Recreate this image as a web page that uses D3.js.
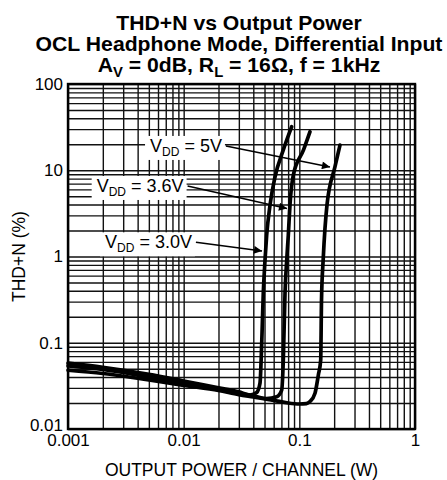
<!DOCTYPE html>
<html><head><meta charset="utf-8">
<script src="https://cdn.jsdelivr.net/npm/d3@7"></script>
<style>body{margin:0;background:#fff}</style>
</head><body>
<svg id="c" width="447" height="480"></svg>
<script>
// ---- data ----
const titleLine1 = "THD+N vs Output Power";
const titleLine2 = "OCL Headphone Mode, Differential Input";
const titleLine3 = [["A",0],["V",1],[" = 0dB, R",0],["L",1],[" = 16\u03A9, f = 1kHz",0]];
const xTickValues = [0.001, 0.01, 0.1, 1];
const xTickLabels = ["0.001", "0.01", "0.1", "1"];
const yTickValues = [0.01, 0.1, 1, 10, 100];
const yTickLabels = ["0.01", "0.1", "1", "10", "100"];
const xTitle = "OUTPUT POWER / CHANNEL (W)";
const yTitle = "THD+N (%)";

const power3V0 = [0.001, 0.002, 0.005, 0.01, 0.02, 0.03, 0.0375, 0.0428, 0.0457, 0.0473, 0.0488, 0.0505, 0.0522, 0.0558, 0.0616, 0.0727, 0.0859];
const thd3V0   = [0.058, 0.052, 0.043, 0.036, 0.030, 0.027, 0.0248, 0.0265, 0.034, 0.099, 0.378, 0.91, 1.77, 3.95, 8.35, 17.2, 32];
const power3V6 = [0.001, 0.002, 0.005, 0.01, 0.02, 0.03, 0.04, 0.052, 0.0637, 0.0704, 0.0727, 0.0752, 0.0778, 0.0803, 0.083, 0.0887, 0.1087, 0.1237];
const thd3V6   = [0.054, 0.049, 0.040, 0.034, 0.029, 0.026, 0.0243, 0.0225, 0.0237, 0.0283, 0.063, 0.378, 0.91, 1.77, 3.95, 8.81, 17.2, 28];
const power5V0 = [0.001, 0.002, 0.005, 0.01, 0.02, 0.03, 0.04, 0.06, 0.08, 0.1, 0.115, 0.1236, 0.1366, 0.146, 0.153, 0.1555, 0.161, 0.1734, 0.2034, 0.2246];
const thd5V0   = [0.048, 0.044, 0.037, 0.032, 0.028, 0.025, 0.0235, 0.0215, 0.020, 0.0195, 0.0197, 0.0208, 0.026, 0.0423, 0.063, 0.313, 0.953, 3.95, 11, 19.6];

const labelSupply = ["5V", "3.6V", "3.0V"];
const labelPower  = [0.00512, 0.00177, 0.00209];   // text start
const labelThd    = [16.3, 5.6, 1.245];            // text baseline
const arrowPower  = [0.184, 0.0782, 0.0476];       // arrow tip
const arrowThd    = [10.9, 3.6, 1.16];

// ---- layout ----
const W = 447, H = 480;
const L = 68, R = 415, T = 84, B = 429;
const font = "'Liberation Sans', Arial, Helvetica, sans-serif";
const svg = d3.select("#c");
svg.append("rect").attr("width", W).attr("height", H).attr("fill", "#fff");

const x = d3.scaleLog().domain([0.001, 1]).range([L, R]);
const y = d3.scaleLog().domain([0.01, 100]).range([B, T]);

// grid values
const xGrid = [], yGrid = [];
[0.001, 0.01, 0.1].forEach(d => { for (let k = 1; k <= 9; k++) xGrid.push(+(d * k).toPrecision(3)); });
xGrid.push(1);
[0.01, 0.1, 1, 10].forEach(d => { for (let k = 1; k <= 9; k++) yGrid.push(+(d * k).toPrecision(3)); });
yGrid.push(100);

const gx = svg.append("g").attr("transform", `translate(0,${B})`)
  .call(d3.axisBottom(x).tickValues(xGrid).tickSize(-(B - T)).tickFormat(""));
gx.select(".domain").remove();
gx.selectAll("line").attr("stroke", "#111").attr("stroke-width", 1.4);

const gy = svg.append("g").attr("transform", `translate(${L},0)`)
  .call(d3.axisLeft(y).tickValues(yGrid).tickSize(-(R - L)).tickFormat(""));
gy.select(".domain").remove();
gy.selectAll("line").attr("stroke", "#111").attr("stroke-width", 1.4);

// tick labels
const ax = svg.append("g").attr("transform", `translate(0,${B})`)
  .call(d3.axisBottom(x).tickValues(xTickValues).tickSize(0).tickPadding(5)
    .tickFormat((d, i) => xTickLabels[i]));
ax.select(".domain").remove();
ax.selectAll("text").attr("font-family", font).attr("font-size", 17).attr("fill", "#000");

const ay = svg.append("g").attr("transform", `translate(${L},0)`)
  .call(d3.axisLeft(y).tickValues(yTickValues).tickSize(0).tickPadding(5)
    .tickFormat((d, i) => yTickLabels[i]));
ay.select(".domain").remove();
ay.selectAll("text").attr("font-family", font).attr("font-size", 17).attr("fill", "#000");
ay.selectAll(".tick").filter(d => d === 0.01).select("text").attr("dy", "0.08em");

// frame
svg.append("rect").attr("x", L).attr("y", T).attr("width", R - L).attr("height", B - T)
  .attr("fill", "none").attr("stroke", "#000").attr("stroke-width", 2.4);

// labels with boxes & arrows
const defs = svg.append("defs");
defs.append("marker").attr("id", "ah").attr("viewBox", "0 0 10 10")
  .attr("refX", 10).attr("refY", 5).attr("markerWidth", 12).attr("markerHeight", 8)
  .attr("markerUnits", "userSpaceOnUse").attr("orient", "auto")
  .append("path").attr("d", "M0,0L10,5L0,10Z").attr("fill", "#000");

const lg = svg.append("g");
labelSupply.forEach((s, i) => {
  const g = lg.append("g");
  const t = g.append("text").attr("x", x(labelPower[i])).attr("y", y(labelThd[i]))
    .attr("font-family", font).attr("font-size", 18).attr("fill", "#000");
  t.append("tspan").text("V");
  t.append("tspan").attr("dy", 4).attr("font-size", 12).text("DD");
  t.append("tspan").attr("dy", -4).text(" = " + s);
  const bb = t.node().getBBox();
  g.insert("rect", "text").attr("x", bb.x - 5).attr("y", bb.y).attr("width", bb.width + 8)
    .attr("height", bb.height + 1).attr("fill", "#fff");
  const sx = bb.x + bb.width + 4, sy = y(labelThd[i]) - 6;
  g.append("line").attr("x1", sx).attr("y1", sy)
    .attr("x2", x(arrowPower[i])).attr("y2", y(arrowThd[i]))
    .attr("stroke", "#000").attr("stroke-width", 1.5).attr("marker-end", "url(#ah)");
});

// curves
const line = d3.line().x(d => x(d[0])).y(d => y(d[1])).curve(d3.curveMonotoneX);
const series = [[power3V0, thd3V0], [power3V6, thd3V6], [power5V0, thd5V0]];
series.forEach(([p, v]) => {
  svg.append("path").datum(p.map((d, i) => [d, v[i]]))
    .attr("d", line).attr("fill", "none").attr("stroke", "#000")
    .attr("stroke-width", 3.7).attr("stroke-linejoin", "round").attr("stroke-linecap", "round");
});

// titles (slightly widened to match the reference)
const tg = svg.append("g").attr("transform", "translate(239,0) scale(1.06,1)")
  .attr("font-family", font).attr("font-weight", "bold")
  .attr("font-size", 20).attr("text-anchor", "middle").attr("fill", "#000");
tg.append("text").attr("x", 0).attr("y", 30).text(titleLine1);
tg.append("text").attr("x", 0).attr("y", 51).text(titleLine2);
const t3 = tg.append("text").attr("x", 0).attr("y", 72);
let prevSub = 0;
titleLine3.forEach(([txt, sub]) => {
  const ts = t3.append("tspan").text(txt);
  if (sub) ts.attr("font-size", 14);
  if (sub !== prevSub) ts.attr("dy", sub ? 5 : -5);
  prevSub = sub;
});

svg.append("text").attr("x", (L + R) / 2).attr("y", 476).attr("text-anchor", "middle")
  .attr("font-family", font).attr("font-size", 17.5).attr("fill", "#000").text(xTitle);
svg.append("text").attr("transform", `translate(25,${(T + B) / 2}) rotate(-90)`)
  .attr("text-anchor", "middle").attr("font-family", font).attr("font-size", 17.5)
  .attr("fill", "#000").text(yTitle);
</script>
</body></html>
